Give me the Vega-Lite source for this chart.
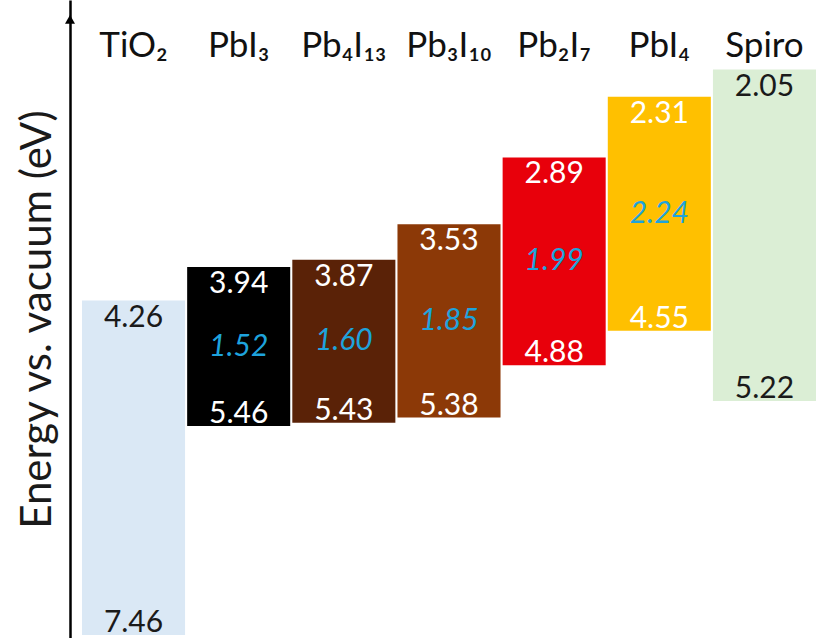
{
  "$schema": "https://vega.github.io/schema/vega-lite/v6.json",
  "width": 746,
  "height": 638,
  "autosize": {"type": "none"},
  "padding": {"left": 70, "top": 0, "right": 0, "bottom": 0},
  "background": "white",
  "config": {"view": {"stroke": null}, "font": "Lato, 'Noto Sans'"},
  "data": {
    "values": [
      {"name": "TiO₂", "top": 4.26, "bottom": 7.46, "gap": null},
      {"name": "PbI₃", "top": 3.94, "bottom": 5.46, "gap": 1.52},
      {"name": "Pb₄I₁₃", "top": 3.87, "bottom": 5.43, "gap": 1.60},
      {"name": "Pb₃I₁₀", "top": 3.53, "bottom": 5.38, "gap": 1.85},
      {"name": "Pb₂I₇", "top": 2.89, "bottom": 4.88, "gap": 1.99},
      {"name": "PbI₄", "top": 2.31, "bottom": 4.55, "gap": 2.24},
      {"name": "Spiro", "top": 2.05, "bottom": 5.22, "gap": null}
    ]
  },
  "encoding": {
    "x": {
      "field": "name",
      "type": "nominal",
      "sort": null,
      "axis": null,
      "scale": {"range": [12, 746], "paddingInner": 0.02, "paddingOuter": 0}
    }
  },
  "layer": [
    {
      "mark": {"type": "bar"},
      "encoding": {
        "y": {
          "field": "top",
          "type": "quantitative",
          "scale": {"domain": [1.384, 7.489], "reverse": true, "nice": false, "zero": false},
          "axis": {
            "title": "Energy vs. vacuum (eV)",
            "labels": false,
            "ticks": false,
            "grid": false,
            "domainColor": "#000",
            "domainWidth": 2.5,
            "titleFontSize": 42,
            "titleFontWeight": "normal",
            "titleColor": "#1a1a1a",
            "titlePadding": 11,
            "titleFont": "Lato, 'Noto Sans'"
          }
        },
        "y2": {"field": "bottom"},
        "color": {
          "field": "name",
          "type": "nominal",
          "legend": null,
          "scale": {
            "domain": ["TiO₂", "PbI₃", "Pb₄I₁₃", "Pb₃I₁₀", "Pb₂I₇", "PbI₄", "Spiro"],
            "range": ["#dae8f5", "#000000", "#5a2207", "#8c3907", "#e8000b", "#ffc000", "#dbeed5"]
          }
        }
      }
    },
    {
      "mark": {"type": "text", "baseline": "top", "dy": 2, "fontSize": 30},
      "encoding": {
        "y": {"field": "top", "type": "quantitative"},
        "text": {"field": "top", "type": "quantitative", "format": ".2f"},
        "color": {
          "condition": {"test": "datum.name === 'TiO₂' || datum.name === 'Spiro'", "value": "#1a1a1a"},
          "value": "#ffffff"
        }
      }
    },
    {
      "mark": {"type": "text", "baseline": "alphabetic", "dy": -3, "fontSize": 30},
      "encoding": {
        "y": {"field": "bottom", "type": "quantitative"},
        "text": {"field": "bottom", "type": "quantitative", "format": ".2f"},
        "color": {
          "condition": {"test": "datum.name === 'TiO₂' || datum.name === 'Spiro'", "value": "#1a1a1a"},
          "value": "#ffffff"
        }
      }
    },
    {
      "transform": [
        {"filter": "datum.gap != null"},
        {"calculate": "(datum.top + datum.bottom) / 2", "as": "mid"}
      ],
      "mark": {"type": "text", "baseline": "middle", "fontSize": 30, "fontStyle": "italic", "color": "#1ea3dc"},
      "encoding": {
        "y": {"field": "mid", "type": "quantitative"},
        "text": {"field": "gap", "type": "quantitative", "format": ".2f"}
      }
    },
    {
      "mark": {"type": "text", "baseline": "alphabetic", "fontSize": 35, "color": "#111111"},
      "encoding": {
        "y": {"datum": 1.929},
        "text": {"field": "name"}
      }
    },
    {
      "data": {"values": [{"tip": 1.57}]},
      "mark": {"type": "point", "shape": "triangle-up", "filled": true, "size": 100, "color": "#000000", "opacity": 1},
      "encoding": {
        "x": {"value": 0},
        "y": {"field": "tip", "type": "quantitative"}
      }
    }
  ]
}
